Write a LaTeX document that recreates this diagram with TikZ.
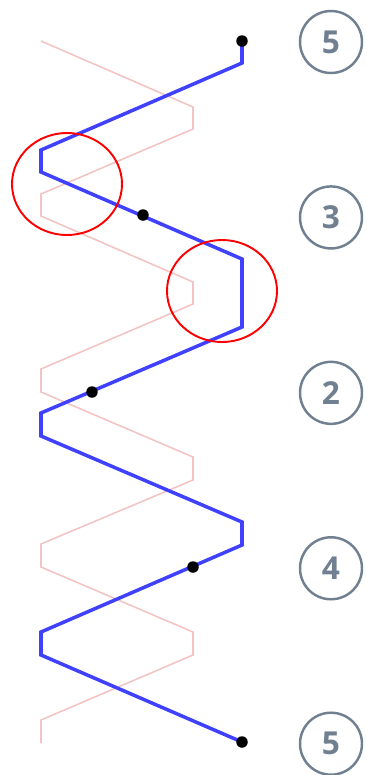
\documentclass[tikz,border=0pt]{standalone}
\usepackage{fontspec}
\newfontfamily\numfont{Open Sans}
\usetikzlibrary{positioning}
\definecolor{zigblue}{RGB}{64,64,255}
\definecolor{zigpink}{RGB}{242,196,196}
\definecolor{slate}{RGB}{112,128,144}

\begin{document}
\begin{tikzpicture}[x=0.02cm,y=-0.02cm,line join=miter,node distance=2.22cm,
    num/.style={draw=slate,line width=1.4pt,circle,minimum size=1.24cm,inner sep=0pt,text=slate,font=\numfont\bfseries\fontsize{18}{18}\selectfont},
    dot/.style={circle,fill=black,inner sep=0pt,minimum size=0.23cm},
    mark circle/.style={draw=red,line width=1.1pt}]
        \useasboundingbox (0,0) rectangle (367,775);
        % pale zigzag behind
        \draw[zigpink,line width=0.9pt] (41,41) -- (193,107) -- (193,129) -- (41,194) -- (41,216) -- (193,282) -- (193,304) -- (41,369) -- (41,392) -- (193,457) -- (193,480) -- (41,544) -- (41,567) -- (193,632) -- (193,655) -- (41,720) -- (41,743);
        % blue zigzag
        \draw[zigblue,line width=2pt] (242,41) -- (242,63) -- (41,150) -- (41,172) -- (242,259) -- (242,327) -- (41,413) -- (41,436) -- (242,522) -- (242,545) -- (41,632) -- (41,655) -- (242,742);
        \node[dot] (d1) at (242,41) {};
        \node[dot] (d2) at (143,215) {};
        \node[dot] (d3) at (92,392) {};
        \node[dot] (d4) at (193,567) {};
        \node[dot] (d5) at (242,742) {};
        \draw[mark circle] (67,184) ellipse [x radius=55,y radius=51];
        \draw[mark circle] (222,291) ellipse [x radius=55,y radius=51];
        \node[num] (top) at (331,42) {5};
        \node[num,below=of top] (three) {3};
        \node[num,below=of three] (two) {2};
        \node[num,below=of two] (four) {4};
        \node[num,below=of four] (bottom) {5};
    \end{tikzpicture}
\end{document}
